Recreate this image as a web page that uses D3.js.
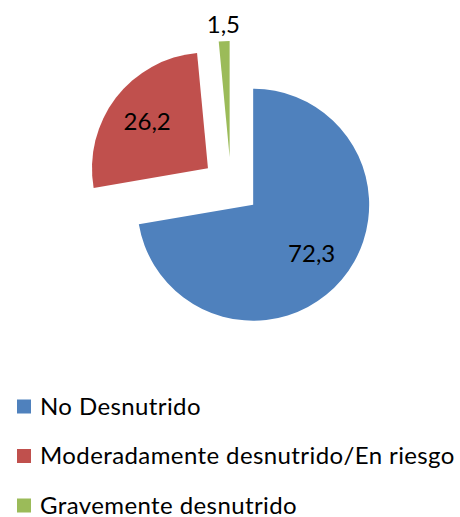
<!DOCTYPE html>
<html>
<head>
<meta charset="utf-8">
<script src="https://cdn.jsdelivr.net/npm/d3@7"></script>
<style>
  body { margin: 0; background: #fff; }
  text { font-family: Lato, "Open Sans", sans-serif; }
</style>
</head>
<body>
<div id="chart"></div>
<script>
const categories = ["No Desnutrido", "Moderadamente desnutrido/En riesgo", "Gravemente desnutrido"];
const values = [72.3, 26.2, 1.5];
const labels = ["72,3", "26,2", "1,5"];
const colors = ["#4F81BD", "#C0504D", "#9BBB59"];

const width = 460, height = 517;
const cx = 231, cy = 186;
const radius = 116;
const explode = 29;

const svg = d3.select("#chart")
    .append("svg")
    .attr("width", width)
    .attr("height", height);

const pie = d3.pie().sort(null).value(d => d);
const arc = d3.arc().innerRadius(0).outerRadius(radius);
const arcs = pie(values);

function offset(d, dist) {
    const mid = (d.startAngle + d.endAngle) / 2;
    return [Math.sin(mid) * dist, -Math.cos(mid) * dist];
}

const slices = svg.append("g")
    .attr("transform", "translate(" + cx + "," + cy + ")")
    .selectAll("g")
    .data(arcs)
    .enter()
    .append("g")
    .attr("transform", d => {
        const o = offset(d, explode);
        return "translate(" + o[0] + "," + o[1] + ")";
    });

slices.append("path")
    .attr("d", arc)
    .attr("fill", (d, i) => colors[i]);

// labels: inside for big slices, outside for the thin one
slices.append("text")
    .attr("x", (d, i) => offset(d, values[i] < 5 ? radius + 17 : radius * 0.66)[0])
    .attr("y", (d, i) => offset(d, values[i] < 5 ? radius + 17 : radius * 0.66)[1])
    .attr("text-anchor", "middle")
    .attr("dy", "0.35em")
    .attr("font-size", 24)
    .attr("fill", "#000")
    .text((d, i) => labels[i]);

const legend = svg.append("g")
    .selectAll("g")
    .data(categories)
    .enter()
    .append("g")
    .attr("transform", (d, i) => "translate(17," + (406.5 + i * 49.5) + ")");

legend.append("rect")
    .attr("x", 0)
    .attr("y", -7)
    .attr("width", 14)
    .attr("height", 14)
    .attr("fill", (d, i) => colors[i]);

legend.append("text")
    .attr("x", 23)
    .attr("y", 0)
    .attr("dy", "0.35em")
    .attr("font-size", 24)
    .attr("letter-spacing", "0.4px")
    .attr("fill", "#000")
    .text(d => d);
</script>
</body>
</html>
